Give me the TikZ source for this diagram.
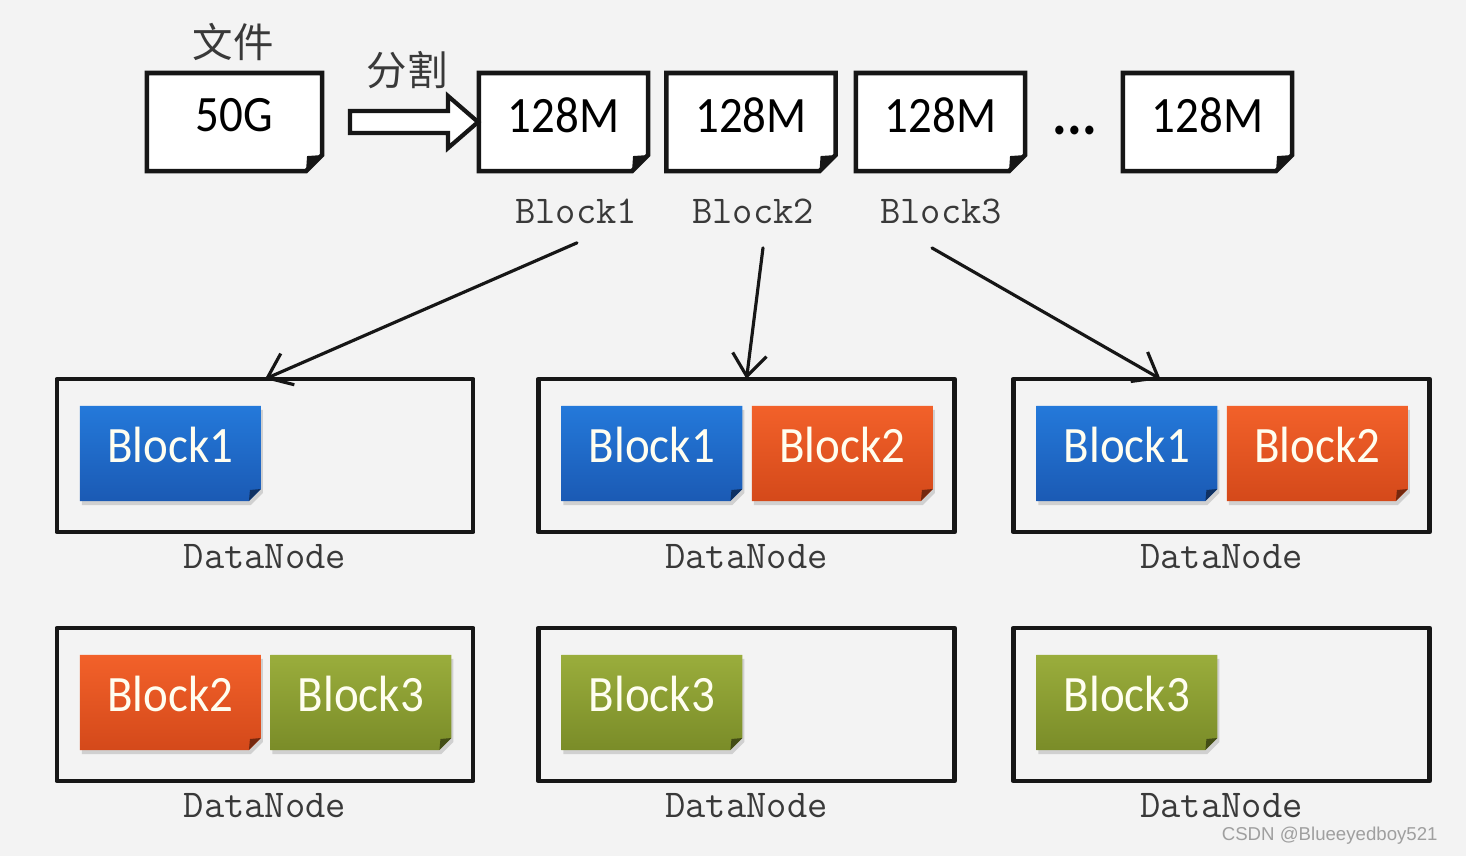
\documentclass[tikz,border=0pt]{standalone}
\usepackage{fontspec}
\newfontfamily\carlito{Carlito}[FakeStretch=0.92]
\newfontfamily\cjk{Noto Sans CJK SC}
\newfontfamily\arial{Liberation Sans}
\usetikzlibrary{arrows.meta,calc,shadows,backgrounds}
\definecolor{bgray}{HTML}{F3F3F3}
\definecolor{ink}{HTML}{161616}
\definecolor{blueT}{HTML}{2479DA}
\definecolor{blueB}{HTML}{1B5AB4}
\definecolor{orangeT}{HTML}{F2612A}
\definecolor{orangeB}{HTML}{D4491A}
\definecolor{greenT}{HTML}{9AAD3C}
\definecolor{greenB}{HTML}{7A8C28}
\tikzset{
  filebox/.style={rectangle, outer sep=0pt, inner sep=0pt,
    minimum width=1.69cm, minimum height=0.98cm, text depth=0.14cm,
    font=\carlito\fontsize{14.5}{17}\selectfont},
  blk/.style={rectangle, outer sep=0pt, inner sep=0pt,
    minimum width=1.81cm, minimum height=0.95cm, text depth=0.17cm,
    text=white!94!yellow, font=\carlito\fontsize{14.5}{17}\selectfont},
  dnbox/.style={draw=ink, line width=1.3pt, outer sep=0pt,
    minimum width=4.16cm, minimum height=1.53cm},
  lbl/.style={font=\ttfamily\fontsize{11.2}{13}\selectfont, text=ink!85},
}
\begin{document}
\begin{tikzpicture}[x=0.01cm, y=-0.01cm, >={Straight Barb[length=2.2mm,width=3.4mm]}, line join=round, line cap=round]
  \def\ka{113.5} \def\kb{304} \def\kv{74.5} \def\fold{16} \def\kf{12}
  \useasboundingbox (0,0) rectangle (1466,856);
  \begin{scope}[on background layer]
    \fill[bgray] (0,0) rectangle (1466,856);
  \end{scope}

  \node[font=\cjk\fontsize{11.5}{13}\selectfont, text=ink!85] (wj) at (233,42) {文件};
  \node[font=\cjk\fontsize{11.5}{13}\selectfont, text=ink!85] (fg) at (407,70) {分割};
  \node[filebox, minimum width=1.75cm] (file) at (234.5,122) {50G};
  \node[filebox] (p1) at (563.5,122) {128M};
  \node[filebox] (p2) at (751,122) {128M};
  \node[filebox] (p3) at (940.5,122) {128M};
  \node[font=\carlito\fontsize{17}{19}\selectfont\bfseries] (dots) at (1075,130) {...};
  \node[filebox] (pn) at (1207.5,122) {128M};

  \draw[ink, line width=1.2pt, line join=miter, fill=white] ($(file.east)+(28,-11)$)
    -- ++(98,0) -- ++(0,-15) -- ++(30,26) -- ++(-30,26) -- ++(0,-15) -- ++(-98,0) -- cycle;

  \node[lbl] (l1) at (576,211) {Block1};
  \node[lbl] (l2) at (753,211) {Block2};
  \node[lbl] (l3) at (941,211) {Block3};

  \foreach \i/\x/\y in {1/265/455.5, 2/746.5/455.5, 3/1221.5/455.5,
                        4/265/704.5, 5/746.5/704.5, 6/1221.5/704.5}{
    \node[dnbox] (dn\i) at (\x,\y) {};
    \node[lbl] (t\i) at (\x,{\y+101.5}) {DataNode};
  }

  \node[blk] (k1) at ($(dn1.north west)+(\ka,\kv)$) {Block1};
  \node[blk] (k2) at ($(dn2.north west)+(\ka,\kv)$) {Block1};
  \node[blk] (k3) at ($(dn2.north west)+(\kb,\kv)$) {Block2};
  \node[blk] (k4) at ($(dn3.north west)+(\ka,\kv)$) {Block1};
  \node[blk] (k5) at ($(dn3.north west)+(\kb,\kv)$) {Block2};
  \node[blk] (k6) at ($(dn4.north west)+(\ka,\kv)$) {Block2};
  \node[blk] (k7) at ($(dn4.north west)+(\kb,\kv)$) {Block3};
  \node[blk] (k8) at ($(dn5.north west)+(\ka,\kv)$) {Block3};
  \node[blk] (k9) at ($(dn6.north west)+(\ka,\kv)$) {Block3};

  \begin{scope}[on background layer]
    \foreach \n in {file,p1,p2,p3,pn}{
      \draw[ink, line width=1.3pt, fill=white] (\n.north west) -- (\n.north east)
        -- ($(\n.south east)+(0,-\fold)$) -- ($(\n.south east)+(-\fold,0)$) -- (\n.south west) -- cycle;
      \fill[ink] ($(\n.south east)+(0,-\fold)$) -- ($(\n.south east)+(-\fold,0)$)
        -- ($(\n.south east)+(-15,-15)$) -- cycle;
    }
    \foreach \n/\c in {k1/blue,k2/blue,k3/orange,k4/blue,k5/orange,
                       k6/orange,k7/green,k8/green,k9/green}{
      \path[top color=\c T, bottom color=\c B,
            drop shadow={shadow xshift=0.02cm, shadow yshift=-0.04cm, opacity=0.3}]
        (\n.north west) -- (\n.north east) -- ($(\n.south east)+(0,-\kf)$)
        -- ($(\n.south east)+(-\kf,0)$) -- (\n.south west) -- cycle;
      \fill[\c B!55!black] ($(\n.south east)+(0,-\kf)$) -- ($(\n.south east)+(-\kf,0)$)
        -- ($(\n.south east)+(-11,-11)$) -- cycle;
    }
  \end{scope}

  \draw[->, ink, line width=0.9pt] ($(l1.south)+(1,7)$) -- (dn1.north);
  \draw[->, ink, line width=0.9pt] ($(l2.south)+(10,12)$) -- (dn2.north);
  \draw[->, ink, line width=0.9pt] ($(l3.south)+(-9,12)$) -- ($(dn3.north)+(-61,0)$);

  \node[font=\arial\fontsize{5.3}{6}\selectfont, text=gray!75, anchor=east] (wm) at (1450,836) {CSDN @Blueeyedboy521};
\end{tikzpicture}
\end{document}
